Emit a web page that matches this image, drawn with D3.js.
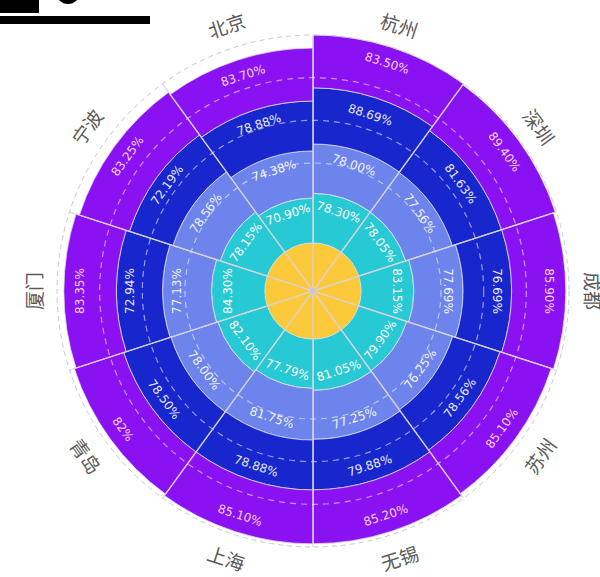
<!DOCTYPE html>
<html>
<head>
<meta charset="utf-8">
<script src="https://cdn.jsdelivr.net/npm/d3@7"></script>
<style>
body { margin: 0; background: #fff; }
svg { display: block; font-family: "Noto Sans CJK SC", "Noto Sans", sans-serif; }
</style>
</head>
<body>
<svg id="chart" width="600" height="577"></svg>
<script>
// categories, clockwise from top
var cities = ["杭州", "深圳", "成都", "苏州", "无锡", "上海", "青岛", "厦门", "宁波", "北京"];
// yellow centre (same for every city)
var centerVals = [76, 76, 76, 76, 76, 76, 76, 76, 76, 76];
// ring values as shown in the labels (kept as strings so "78.00" stays "78.00")
var ring1 = ["78.30", "78.05", "83.15", "79.90", "81.05", "77.79", "82.10", "84.30", "78.15", "70.90"];
var ring2 = ["78.00", "77.56", "77.69", "76.25", "77.25", "81.75", "78.00", "77.13", "78.56", "74.38"];
var ring3 = ["88.69", "81.63", "76.69", "78.56", "79.88", "78.88", "78.50", "72.94", "72.19", "78.88"];
var ring4 = ["83.50", "89.40", "85.90", "85.10", "85.20", "85.10", "82", "83.35", "83.25", "83.70"];

var keys = ["c", "r1", "r2", "r3", "r4"];
var rings = [centerVals, ring1, ring2, ring3, ring4];
var colors = ["#fcc93a", "#27c9d4", "#6c84ec", "#1727cd", "#8a12f2"];
var labelColors = [null, "#ffffff", "#f2f3ff", "#e8eaff", "#f7d2f4"];

var rows = cities.map(function (c, i) {
    var row = { city: c };
    keys.forEach(function (k, ki) { row[k] = +rings[ki][i]; });
    return row;
});

var svg = d3.select("#chart");
var cx = 313, cy = 291, R = 256;

// broken title / legend bits at top left
svg.append("rect").attr("x", 0).attr("y", 0).attr("width", 39).attr("height", 13).attr("fill", "#000");
svg.append("circle").attr("cx", 68).attr("cy", -8).attr("r", 12).attr("fill", "#000");
svg.append("rect").attr("x", 0).attr("y", 16).attr("width", 150).attr("height", 8).attr("fill", "#000");

var g = svg.append("g").attr("transform", "translate(" + cx + "," + cy + ")");

var stacked = d3.stack().keys(keys)(rows);
var maxVal = d3.max(stacked[stacked.length - 1], function (d) { return d[1]; });

var angle = d3.scaleBand().domain(cities).range([0, 2 * Math.PI]).padding(0);
var radius = d3.scaleLinear().domain([0, maxVal]).range([0, R]);

var arc = d3.arc()
    .innerRadius(function (d) { return radius(d[0]); })
    .outerRadius(function (d) { return radius(d[1]); })
    .startAngle(function (d) { return angle(d.data.city); })
    .endAngle(function (d) { return angle(d.data.city) + angle.bandwidth(); });

stacked.forEach(function (s, si) {
    g.append("g").selectAll("path")
        .data(s)
        .enter().append("path")
        .attr("d", arc)
        .attr("fill", colors[si])
        .attr("stroke", si === 0 ? "none" : "rgba(225,225,235,0.75)")
        .attr("stroke-width", 1);
});

// radius split lines (dashed, over the bars; the inner two don't show)
var splitVals = d3.range(3, 6).map(function (i) { return maxVal * i / 6; });
g.append("g").selectAll("circle")
    .data(splitVals)
    .enter().append("circle")
    .attr("r", function (d) { return radius(d); })
    .attr("fill", "none")
    .attr("stroke", "rgba(255,255,255,0.55)")
    .attr("stroke-width", 1.2)
    .attr("stroke-dasharray", "6,5");

// angle axis line
g.append("circle")
    .attr("r", radius(maxVal))
    .attr("fill", "none")
    .attr("stroke", "#c8c8d0")
    .attr("stroke-width", 1)
    .attr("stroke-dasharray", "5,4");

// radial split lines
g.append("g").selectAll("line")
    .data(cities)
    .enter().append("line")
    .attr("x1", 0).attr("y1", 0)
    .attr("x2", function (d) { return radius(maxVal) * Math.sin(angle(d)); })
    .attr("y2", function (d) { return -radius(maxVal) * Math.cos(angle(d)); })
    .attr("stroke", "rgba(215,210,220,0.85)")
    .attr("stroke-width", 1.5);

g.append("circle").attr("r", 3).attr("fill", "#c8c8dc");

function rot(a) {
    var deg = a * 180 / Math.PI;
    return (deg > 90 && deg < 270) ? deg - 180 : deg;
}

// value labels
stacked.forEach(function (s, si) {
    if (si === 0) return;
    g.append("g").selectAll("text")
        .data(s)
        .enter().append("text")
        .attr("transform", function (d) {
            var a = angle(d.data.city) + angle.bandwidth() / 2;
            var r = (radius(d[0]) + radius(d[1])) / 2 + 10;
            return "translate(" + (r * Math.sin(a)) + "," + (-r * Math.cos(a)) + ") rotate(" + rot(a) + ")";
        })
        .attr("text-anchor", "middle")
        .attr("dominant-baseline", "central")
        .attr("font-family", "DejaVu Sans, sans-serif")
        .attr("font-size", 12)
        .attr("fill", labelColors[si])
        .text(function (d, i) { return rings[si][i] + "%"; });
});

// city labels
g.append("g").selectAll("text")
    .data(cities)
    .enter().append("text")
    .attr("transform", function (d) {
        var a = angle(d) + angle.bandwidth() / 2;
        var r = radius(maxVal) + 24;
        return "translate(" + (r * Math.sin(a)) + "," + (-r * Math.cos(a)) + ") rotate(" + rot(a) + ")";
    })
    .attr("text-anchor", "middle")
    .attr("dominant-baseline", "central")
    .attr("font-size", 19)
    .attr("fill", "#5a5a5a")
    .text(function (d) { return d; });
</script>
</body>
</html>
